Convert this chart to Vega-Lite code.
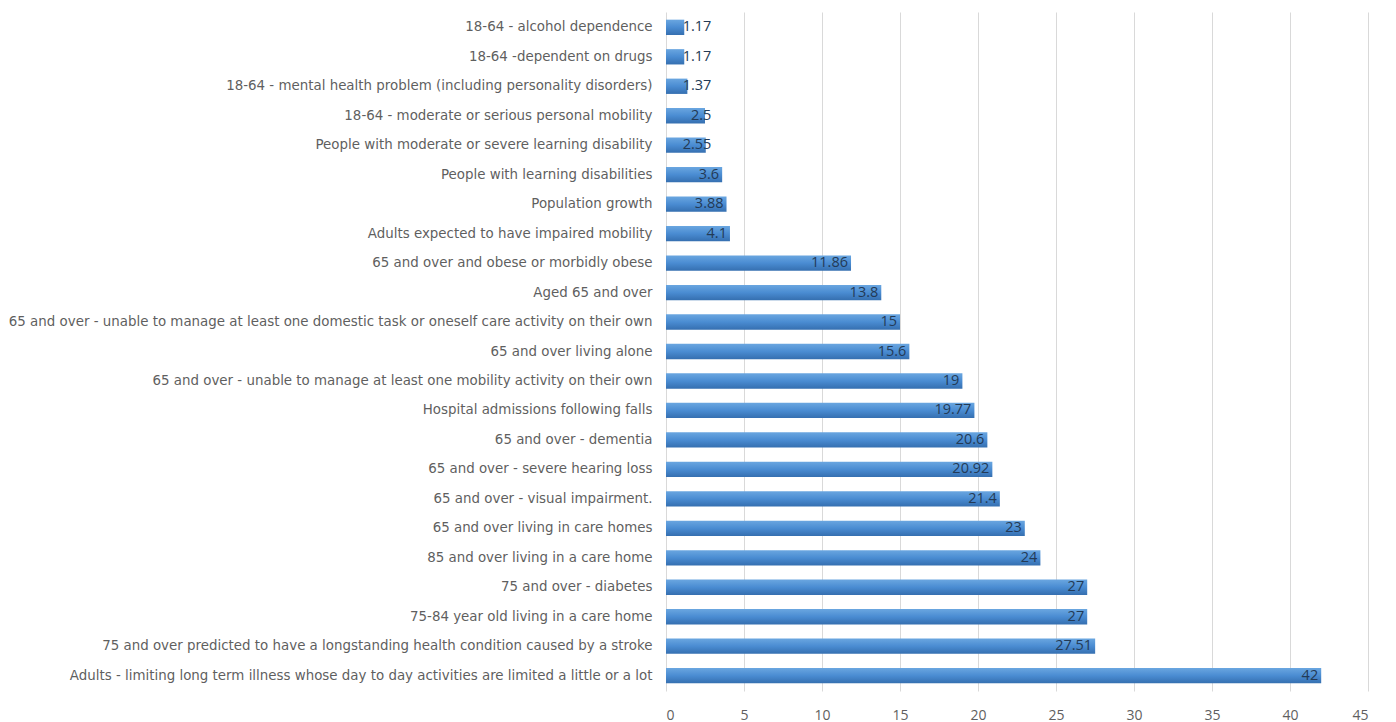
{
  "$schema": "https://vega.github.io/schema/vega-lite/v6.json",
  "autosize": "none",
  "width": 702,
  "height": 679,
  "padding": {"left": 666, "top": 12, "right": 28, "bottom": 31},
  "background": "white",
  "config": {
    "view": {"stroke": null},
    "font": "Open Sans"
  },
  "data": {
    "values": [
      {"category": "18-64 - alcohol dependence", "value": 1.17},
      {"category": "18-64 -dependent on drugs", "value": 1.17},
      {"category": "18-64 - mental health problem (including personality disorders)", "value": 1.37},
      {"category": "18-64 - moderate or serious personal mobility", "value": 2.5},
      {"category": "People with moderate or severe learning disability", "value": 2.55},
      {"category": "People with learning disabilities", "value": 3.6},
      {"category": "Population growth", "value": 3.88},
      {"category": "Adults expected to have impaired mobility", "value": 4.1},
      {"category": "65 and over and obese or morbidly obese", "value": 11.86},
      {"category": "Aged 65 and over", "value": 13.8},
      {"category": "65 and over - unable to manage at least one domestic task or oneself care activity on their own", "value": 15},
      {"category": "65 and over living alone", "value": 15.6},
      {"category": "65 and over - unable to manage at least one mobility activity on their own", "value": 19},
      {"category": "Hospital admissions following falls", "value": 19.77},
      {"category": "65 and over - dementia", "value": 20.6},
      {"category": "65 and over - severe hearing loss", "value": 20.92},
      {"category": "65 and over - visual impairment.", "value": 21.4},
      {"category": "65 and over living in care homes", "value": 23},
      {"category": "85 and over living in a care home", "value": 24},
      {"category": "75 and over - diabetes", "value": 27},
      {"category": "75-84 year old living in a care home", "value": 27},
      {"category": "75 and over predicted to have a longstanding health condition caused by a stroke", "value": 27.51},
      {"category": "Adults - limiting long term illness whose day to day activities are limited a little or a lot", "value": 42}
    ]
  },
  "encoding": {
    "y": {
      "field": "category",
      "type": "nominal",
      "sort": null,
      "scale": {"paddingInner": 0.48, "paddingOuter": 0.26},
      "axis": {
        "title": null,
        "ticks": false,
        "domain": false,
        "labelPadding": 14,
        "labelLimit": 0,
        "labelFontSize": 13.4,
        "labelColor": "#5f5f5f",
        "labelFont": "DejaVu Sans"
      }
    }
  },
  "layer": [
    {
      "mark": {
        "type": "bar",
        "color": {
          "x1": 0, "y1": 0, "x2": 0, "y2": 1,
          "gradient": "linear",
          "stops": [
            {"offset": 0, "color": "#6aa6e0"},
            {"offset": 0.5, "color": "#4a8cd2"},
            {"offset": 1, "color": "#356fb0"}
          ]
        }
      },
      "encoding": {
        "x": {
          "field": "value",
          "type": "quantitative",
          "scale": {"domain": [0, 45], "nice": false},
          "axis": {
            "title": null,
            "values": [0, 5, 10, 15, 20, 25, 30, 35, 40, 45],
            "ticks": false,
            "domain": false,
            "grid": true,
            "gridColor": "#d9d9d9",
            "gridWidth": 1,
            "labelPadding": 17,
            "labelFontSize": 14,
            "labelColor": "#5f5f5f",
            "labelFont": "Open Sans"
          }
        }
      }
    },
    {
      "transform": [
        {"calculate": "max(datum.value, 3.1)", "as": "labelAt"}
      ],
      "mark": {
        "type": "text",
        "align": "right",
        "baseline": "middle",
        "dx": -3,
        "fontSize": 14.5,
        "color": "#233a56",
        "font": "Open Sans"
      },
      "encoding": {
        "x": {"field": "labelAt", "type": "quantitative"},
        "text": {"field": "value", "type": "quantitative"}
      }
    }
  ]
}
